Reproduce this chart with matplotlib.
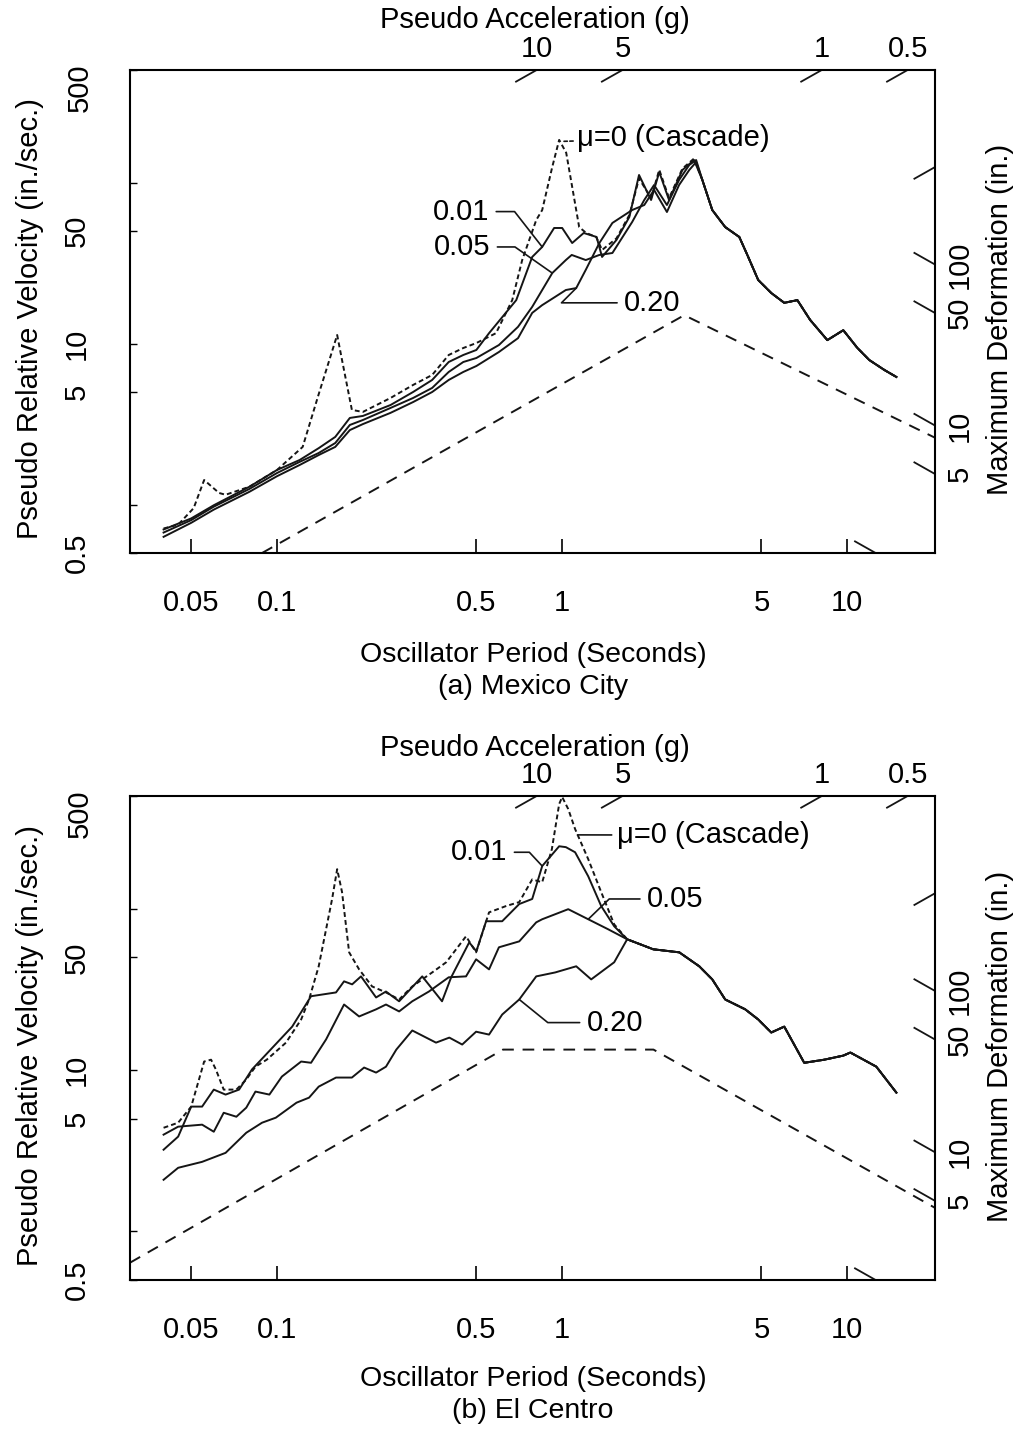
import numpy as np
import matplotlib.pyplot as plt

plt.rcParams['font.family'] = ['Liberation Sans', 'DejaVu Sans']
plt.rcParams['font.size'] = 21

G = 386.1  # in/s^2

period_ticks = [0.05, 0.1, 0.5, 1, 5, 10]
period_labels = ['0.05', '0.1', '0.5', '1', '5', '10']
vel_ticks = [0.5, 1, 5, 10, 50, 100, 500]
vel_labels = ['0.5', '', '5', '10', '50', '', '500']
accel_top = [10, 5, 1, 0.5]      # labelled, on the top edge
accel_side = [0.1]               # unlabelled, on the right edge
deform_ticks = [1, 5, 10, 50, 100]
deform_labels = ['', '5', '10', '50', '100']

# ---- (a) Mexico City ----
mex_T_cas = [0.040, 0.045, 0.051, 0.0555, 0.0626, 0.066, 0.080, 0.100, 0.123, 0.140,
             0.1625, 0.169, 0.183, 0.200, 0.250, 0.300, 0.350, 0.400, 0.450, 0.500,
             0.586, 0.668, 0.724, 0.811, 0.851, 0.923, 0.976, 1.033, 1.084, 1.147,
             1.214, 1.316, 1.38, 1.55, 1.72, 1.86, 2.05, 2.19, 2.37, 2.64, 2.90]
mex_v_cas = [0.71, 0.75, 0.95, 1.42, 1.18, 1.15, 1.29, 1.64, 2.28, 4.85,
             11.3, 7.9, 3.87, 3.76, 4.59, 5.53, 6.38, 8.49, 9.38, 10.07,
             11.6, 18.6, 33.0, 58.5, 67.5, 125, 184, 153, 94, 52.9,
             48.6, 45.9, 38.1, 45.0, 62.8, 106, 80, 120, 80, 122, 141]

mex_T_001 = [0.040, 0.050, 0.060, 0.080, 0.100, 0.120, 0.140, 0.160, 0.180, 0.200,
             0.250, 0.300, 0.350, 0.400, 0.450, 0.500, 0.554, 0.690, 0.785, 0.851,
             0.937, 1.00, 1.084, 1.19, 1.32, 1.38, 1.55, 1.72, 1.86, 2.05,
             2.19, 2.37, 2.64, 2.90]
mex_v_001 = [0.70, 0.82, 0.99, 1.29, 1.64, 1.89, 2.24, 2.63, 3.45, 3.55,
             4.15, 5.0, 5.94, 7.68, 8.49, 9.12, 11.6, 18.6, 34.5, 39.8,
             52.2, 52.2, 42.1, 48.6, 45.9, 34.5, 44.0, 61.1, 111.4, 77.9,
             116.2, 77.9, 119.6, 138]

mex_T_005 = [0.040, 0.050, 0.060, 0.080, 0.100, 0.120, 0.140, 0.160, 0.180, 0.200,
             0.250, 0.300, 0.350, 0.400, 0.450, 0.500, 0.600, 0.700, 0.785, 0.923,
             1.03, 1.08, 1.21, 1.35, 1.50, 1.76, 1.94, 2.10, 2.33, 2.57, 2.79, 2.95]
mex_v_005 = [0.67, 0.80, 0.97, 1.25, 1.57, 1.84, 2.09, 2.41, 3.12, 3.35,
             3.98, 4.59, 5.30, 6.66, 7.68, 8.13, 9.79, 12.7, 16.9, 27.4,
             33.0, 35.5, 33.0, 35.5, 36.5, 56.9, 77.9, 96.5, 72.5, 103.7, 128.5, 138]

mex_T_020 = [0.040, 0.050, 0.060, 0.080, 0.100, 0.120, 0.140, 0.160, 0.180, 0.200,
             0.250, 0.300, 0.350, 0.400, 0.450, 0.500, 0.600, 0.700, 0.785, 0.850,
             0.945, 1.03, 1.12, 1.21, 1.35, 1.50, 1.76, 1.94, 2.10, 2.33, 2.57, 2.79, 2.95]
mex_v_020 = [0.63, 0.77, 0.93, 1.20, 1.50, 1.76, 2.03, 2.28, 2.90, 3.16,
             3.71, 4.33, 5.0, 5.94, 6.66, 7.25, 8.86, 10.8, 15.5, 17.3,
             19.5, 21.5, 22.1, 28.7, 42.1, 56.1, 67.5, 72.5, 90, 65.6, 96.5, 119.6, 134]

mex_T_tail = [3.10, 3.36, 3.73, 4.18, 4.46, 4.87, 5.41, 6.01, 6.68, 7.41, 8.51, 9.68,
              10.84, 11.94, 13.49, 14.86]
mex_v_tail = [104, 67.5, 52.9, 45.9, 35.5, 24.8, 20.6, 17.9, 18.6, 14.0, 10.5, 12.1,
              9.4, 7.9, 6.85, 6.2]

mex_T_design = [0.0886, 2.68, 20.3]
mex_v_design = [0.5, 15.0, 2.6]

# ---- (b) El Centro ----
elc_T_cas = [0.040, 0.045, 0.050, 0.0555, 0.0587, 0.061, 0.065, 0.072, 0.078, 0.084,
             0.092, 0.1075, 0.1215, 0.1295, 0.140, 0.156, 0.1625, 0.169, 0.179, 0.194,
             0.2155, 0.241, 0.268, 0.298, 0.350, 0.392, 0.460, 0.499, 0.554, 0.636,
             0.707, 0.785, 0.851, 0.920, 0.976, 1.00, 1.05, 1.11, 1.234, 1.37, 1.522]
elc_v_cas = [4.39, 4.72, 5.94, 11.3, 11.6, 10.1, 7.57, 7.57, 8.74, 10.5,
             11.6, 14.8, 20.6, 27.4, 44.0, 115, 176, 127, 53.7, 42.1,
             33.0, 30.3, 27.4, 33.0, 40.3, 46.6, 67.5, 53.7, 95, 104,
             110, 152, 146, 234, 446, 493, 415, 312, 203, 127, 80]

elc_T_001 = [0.040, 0.045, 0.050, 0.0546, 0.060, 0.066, 0.0736, 0.0817, 0.0915, 0.113,
             0.1316, 0.161, 0.1718, 0.1834, 0.197, 0.2225, 0.241, 0.268, 0.323, 0.379,
             0.408, 0.472, 0.500, 0.541, 0.616, 0.707, 0.785, 0.851, 0.976, 1.03,
             1.11, 1.234, 1.37, 1.522]
elc_v_001 = [3.21, 3.87, 5.94, 5.94, 7.57, 7.05, 7.57, 10.1, 12.5, 18.6,
             28.7, 30.3, 35.5, 34.0, 38.1, 28.2, 30.7, 26.7, 38.1, 26.7,
             37.6, 61.9, 54.5, 83.7, 83.7, 107, 115, 184, 244, 241,
             224, 159, 104, 77.9]

elc_T_005 = [0.040, 0.045, 0.0546, 0.060, 0.065, 0.072, 0.078, 0.084, 0.094, 0.104,
             0.1215, 0.1316, 0.1486, 0.1718, 0.194, 0.2225, 0.241, 0.268, 0.298, 0.341,
             0.400, 0.460, 0.499, 0.554, 0.600, 0.707, 0.811, 0.851, 1.05, 1.234, 1.45]
elc_v_005 = [3.98, 4.46, 4.59, 4.15, 5.44, 5.14, 5.85, 7.36, 7.05, 9.12,
             11.3, 11.1, 15.5, 25.5, 21.5, 23.8, 25.5, 23.1, 26.7, 30.7,
             37.6, 38.1, 48.6, 42.1, 57.7, 62.8, 82.4, 86.1, 99.4, 86.1, 74.6]

elc_T_020 = [0.040, 0.045, 0.0546, 0.066, 0.078, 0.0886, 0.099, 0.117, 0.1295, 0.140,
             0.161, 0.183, 0.202, 0.2225, 0.241, 0.262, 0.298, 0.361, 0.402, 0.446,
             0.499, 0.554, 0.616, 0.707, 0.811, 0.945, 1.12, 1.264, 1.522]
elc_v_020 = [2.09, 2.48, 2.70, 3.07, 4.09, 4.72, 5.07, 6.28, 6.75, 7.90,
             8.99, 8.99, 10.37, 9.65, 10.5, 13.4, 17.6, 14.8, 15.9, 14.4,
             17.3, 16.6, 22.1, 27.4, 38.1, 40.3, 44.0, 36.5, 46.6]

elc_T_tail = [1.69, 2.085, 2.574, 3.025, 3.36, 3.73, 4.385, 4.87, 5.41, 6.01, 7.06, 8.30,
              9.68, 10.25, 12.64, 14.86]
elc_v_tail = [64.7, 56.1, 53.7, 44.0, 36.5, 27.4, 23.8, 20.6, 17.1, 18.6, 11.1, 11.6,
              12.3, 12.85, 10.5, 7.25]

elc_T_design = [0.0305, 0.62, 2.09, 20.3]
elc_v_design = [0.64, 13.4, 13.4, 1.40]

LW = 1.4
INK = '#151515'


def frame(ax):
    ax.set_xscale('log')
    ax.set_yscale('log')
    ax.set_xlim(0.0305, 20.3)
    ax.set_ylim(0.5, 500)
    ax.minorticks_off()
    ax.set_xticks(period_ticks)
    ax.set_xticklabels(period_labels)
    ax.set_yticks(vel_ticks)
    # the top label sits a little below its tick, drawn separately
    ax.set_yticklabels(vel_labels[:-1] + [''], rotation=90, va='center')
    ax.annotate(vel_labels[-1], xy=(0, 1), xycoords='axes fraction',
                xytext=(-36, -13), textcoords='offset points',
                ha='center', va='center', rotation=90, annotation_clip=False)
    ax.tick_params(axis='x', direction='in', length=10, width=1.2, pad=26)
    ax.tick_params(axis='y', direction='in', length=5, width=1.0, pad=28)
    for s in ax.spines.values():
        s.set_linewidth(1.5)


def tripartite(ax):
    t0, t1 = ax.get_xlim()
    v0, v1 = ax.get_ylim()
    k = 10 ** 0.075
    for a in accel_top + accel_side:
        t, v = 2 * np.pi * v1 / (a * G), v1
        if t > t1:
            t, v = t1, a * G * t1 / (2 * np.pi)
        ax.plot([t / k, t], [v / k, v], color=INK, lw=1.3, solid_capstyle='butt')
        if a in accel_top:
            ax.annotate('%g' % a, xy=(t, v), xytext=(0, 15), textcoords='offset points',
                        ha='center', va='center', annotation_clip=False)
    for d, lab in zip(deform_ticks, deform_labels):
        t, v = t1, 2 * np.pi * d / t1
        if v < v0:
            t, v = 2 * np.pi * d / v0, v0
        ax.plot([t / k, t], [v * k, v], color=INK, lw=1.3, solid_capstyle='butt')
        if lab:
            ax.annotate(lab, xy=(t, v), xytext=(18, 0), textcoords='offset points',
                        ha='center', va='center', rotation=90, annotation_clip=False)


def curves(ax, T_tail, v_tail, series, T_des, v_des):
    for T, v, cascade in series:
        TT = list(T) + list(T_tail)
        vv = list(v) + list(v_tail)
        if cascade:
            ax.plot(TT, vv, color=INK, lw=LW, dashes=(2.5, 1.6))
        else:
            ax.plot(TT, vv, color=INK, lw=LW)
    ax.plot(T_des, v_des, color=INK, lw=LW, dashes=(6, 4.5))


def leader(ax, text, xy, xytext, angleB=None, ls='-'):
    if angleB is None:
        cs = 'arc3'
    else:
        cs = 'angle,angleA=0,angleB=%g,rad=0' % angleB
    ax.annotate(text, xy=xy, xytext=xytext, ha='center', va='center',
                arrowprops=dict(arrowstyle='-', color=INK, lw=1.2, ls=ls,
                                shrinkA=3, shrinkB=0, connectionstyle=cs))


fig = plt.figure(figsize=(10.26, 14.35), dpi=100)
W, H = 1026.0, 1435.0
ax_a = fig.add_axes([130 / W, 1 - 553 / H, 805 / W, 483 / H])
ax_b = fig.add_axes([130 / W, 1 - 1280 / H, 805 / W, 484 / H])

for ax in (ax_a, ax_b):
    frame(ax)

curves(ax_a, mex_T_tail, mex_v_tail,
       [(mex_T_cas, mex_v_cas, True), (mex_T_001, mex_v_001, False),
        (mex_T_005, mex_v_005, False), (mex_T_020, mex_v_020, False)],
       mex_T_design, mex_v_design)
curves(ax_b, elc_T_tail, elc_v_tail,
       [(elc_T_cas, elc_v_cas, True), (elc_T_001, elc_v_001, False),
        (elc_T_005, elc_v_005, False), (elc_T_020, elc_v_020, False)],
       elc_T_design, elc_v_design)

for ax in (ax_a, ax_b):
    tripartite(ax)

# labels with leader lines, panel (a)
i = mex_T_cas.index(0.976)
ax_a.annotate('\u03bc=0 (Cascade)', xy=(mex_T_cas[i] * 1.04, mex_v_cas[i] * 0.98),
              xytext=(1.13, 189), ha='left', va='center',
              arrowprops=dict(arrowstyle='-', color=INK, lw=1.2, ls=(0, (2, 1.5)),
                              shrinkA=1, shrinkB=0))
i = mex_T_001.index(0.851)
leader(ax_a, '0.01', (mex_T_001[i], mex_v_001[i]), (0.442, 66), angleB=128)
i = mex_T_005.index(0.923)
leader(ax_a, '0.05', (mex_T_005[i], mex_v_005[i]), (0.446, 39.8), angleB=145)
i = mex_T_020.index(1.12)
leader(ax_a, '0.20', (mex_T_020[i], mex_v_020[i]), (2.07, 17.9), angleB=45)

# labels with leader lines, panel (b)
i = elc_T_cas.index(1.11)
ax_b.annotate('\u03bc=0 (Cascade)', xy=(elc_T_cas[i] * 1.02, elc_v_cas[i] * 0.92),
              xytext=(1.56, 286), ha='left', va='center',
              arrowprops=dict(arrowstyle='-', color=INK, lw=1.2,
                              shrinkA=2, shrinkB=0))
i = elc_T_001.index(0.851)
leader(ax_b, '0.01', (elc_T_001[i], elc_v_001[i]), (0.512, 224), angleB=133)
i = elc_T_005.index(1.234)
leader(ax_b, '0.05', (elc_T_005[i], elc_v_005[i]), (2.49, 115), angleB=44)
i = elc_T_020.index(0.707)
leader(ax_b, '0.20', (elc_T_020[i], elc_v_020[i]), (1.53, 19.7), angleB=141)

# axis titles
for top, xl1, xl2, cap, ymid in [(20, 655, 687, '(a) Mexico City', 311),
                                 (748, 1379, 1411, '(b) El Centro', 1038)]:
    fig.text(535 / W, 1 - top / H, 'Pseudo Acceleration (g)', ha='center', va='center')
    fig.text(533 / W, 1 - xl1 / H, 'Oscillator Period (Seconds)', ha='center',
             va='center', fontsize=20.5)
    fig.text(533 / W, 1 - xl2 / H, cap, ha='center', va='center', fontsize=20.5)
    fig.text(30 / W, 1 - (ymid + 8) / H, 'Pseudo Relative Velocity (in./sec.)',
             rotation=90, ha='center', va='center')
    fig.text(1000 / W, 1 - (ymid + 8) / H, 'Maximum Deformation (in.)',
             rotation=90, ha='center', va='center')

fig.savefig('out.png', dpi=100)
